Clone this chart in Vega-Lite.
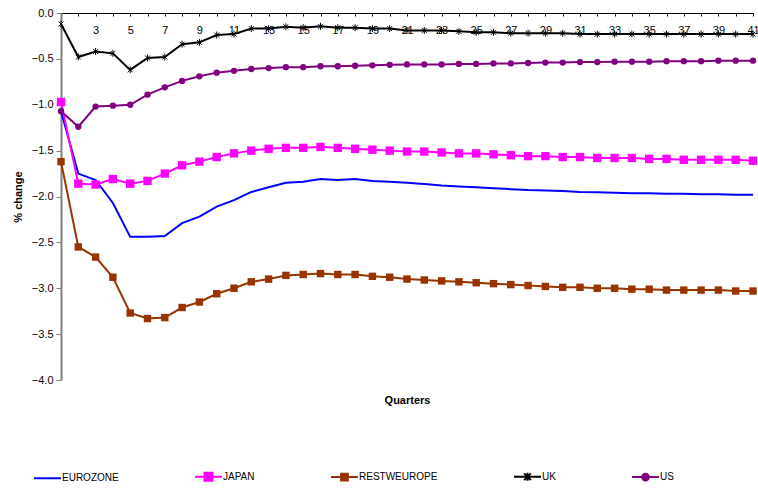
{
 "$schema": "https://vega.github.io/schema/vega-lite/v6.json",
 "width": 692, "height": 367,
 "autosize": {"type": "none"},
 "padding": {"left": 61, "top": 13, "right": 5, "bottom": 109},
 "background": "white",
 "config": {"view": {"stroke": null}, "font": "Liberation Sans", "axis": {"grid": false}},
 "data": {"values": [
  {"q":1,"EUROZONE":-1.07,"JAPAN":-0.97,"RESTWEUROPE":-1.62,"UK":-0.12,"US":-1.07},
  {"q":2,"EUROZONE":-1.75,"JAPAN":-1.86,"RESTWEUROPE":-2.55,"UK":-0.48,"US":-1.24},
  {"q":3,"EUROZONE":-1.82,"JAPAN":-1.87,"RESTWEUROPE":-2.66,"UK":-0.42,"US":-1.02},
  {"q":4,"EUROZONE":-2.07,"JAPAN":-1.81,"RESTWEUROPE":-2.88,"UK":-0.44,"US":-1.01},
  {"q":5,"EUROZONE":-2.44,"JAPAN":-1.86,"RESTWEUROPE":-3.27,"UK":-0.62,"US":-1.00},
  {"q":6,"EUROZONE":-2.44,"JAPAN":-1.83,"RESTWEUROPE":-3.33,"UK":-0.49,"US":-0.89},
  {"q":7,"EUROZONE":-2.43,"JAPAN":-1.75,"RESTWEUROPE":-3.32,"UK":-0.48,"US":-0.81},
  {"q":8,"EUROZONE":-2.29,"JAPAN":-1.66,"RESTWEUROPE":-3.21,"UK":-0.34,"US":-0.74},
  {"q":9,"EUROZONE":-2.22,"JAPAN":-1.62,"RESTWEUROPE":-3.15,"UK":-0.32,"US":-0.69},
  {"q":10,"EUROZONE":-2.11,"JAPAN":-1.57,"RESTWEUROPE":-3.06,"UK":-0.24,"US":-0.65},
  {"q":11,"EUROZONE":-2.04,"JAPAN":-1.53,"RESTWEUROPE":-3.00,"UK":-0.23,"US":-0.63},
  {"q":12,"EUROZONE":-1.95,"JAPAN":-1.50,"RESTWEUROPE":-2.93,"UK":-0.17,"US":-0.61},
  {"q":13,"EUROZONE":-1.90,"JAPAN":-1.48,"RESTWEUROPE":-2.90,"UK":-0.17,"US":-0.60},
  {"q":14,"EUROZONE":-1.85,"JAPAN":-1.47,"RESTWEUROPE":-2.86,"UK":-0.15,"US":-0.59},
  {"q":15,"EUROZONE":-1.84,"JAPAN":-1.47,"RESTWEUROPE":-2.85,"UK":-0.16,"US":-0.59},
  {"q":16,"EUROZONE":-1.81,"JAPAN":-1.46,"RESTWEUROPE":-2.84,"UK":-0.145,"US":-0.58},
  {"q":17,"EUROZONE":-1.82,"JAPAN":-1.47,"RESTWEUROPE":-2.85,"UK":-0.16,"US":-0.58},
  {"q":18,"EUROZONE":-1.81,"JAPAN":-1.48,"RESTWEUROPE":-2.85,"UK":-0.16,"US":-0.575},
  {"q":19,"EUROZONE":-1.83,"JAPAN":-1.49,"RESTWEUROPE":-2.87,"UK":-0.17,"US":-0.57},
  {"q":20,"EUROZONE":-1.84,"JAPAN":-1.50,"RESTWEUROPE":-2.88,"UK":-0.17,"US":-0.565},
  {"q":21,"EUROZONE":-1.85,"JAPAN":-1.51,"RESTWEUROPE":-2.90,"UK":-0.19,"US":-0.56},
  {"q":22,"EUROZONE":-1.865,"JAPAN":-1.51,"RESTWEUROPE":-2.91,"UK":-0.19,"US":-0.56},
  {"q":23,"EUROZONE":-1.88,"JAPAN":-1.52,"RESTWEUROPE":-2.92,"UK":-0.19,"US":-0.56},
  {"q":24,"EUROZONE":-1.89,"JAPAN":-1.53,"RESTWEUROPE":-2.93,"UK":-0.20,"US":-0.555},
  {"q":25,"EUROZONE":-1.90,"JAPAN":-1.53,"RESTWEUROPE":-2.94,"UK":-0.21,"US":-0.555},
  {"q":26,"EUROZONE":-1.91,"JAPAN":-1.54,"RESTWEUROPE":-2.95,"UK":-0.21,"US":-0.55},
  {"q":27,"EUROZONE":-1.92,"JAPAN":-1.55,"RESTWEUROPE":-2.96,"UK":-0.22,"US":-0.55},
  {"q":28,"EUROZONE":-1.93,"JAPAN":-1.56,"RESTWEUROPE":-2.97,"UK":-0.22,"US":-0.545},
  {"q":29,"EUROZONE":-1.935,"JAPAN":-1.56,"RESTWEUROPE":-2.98,"UK":-0.22,"US":-0.54},
  {"q":30,"EUROZONE":-1.94,"JAPAN":-1.57,"RESTWEUROPE":-2.99,"UK":-0.22,"US":-0.54},
  {"q":31,"EUROZONE":-1.95,"JAPAN":-1.57,"RESTWEUROPE":-2.99,"UK":-0.23,"US":-0.535},
  {"q":32,"EUROZONE":-1.955,"JAPAN":-1.58,"RESTWEUROPE":-3.00,"UK":-0.23,"US":-0.535},
  {"q":33,"EUROZONE":-1.96,"JAPAN":-1.58,"RESTWEUROPE":-3.00,"UK":-0.23,"US":-0.53},
  {"q":34,"EUROZONE":-1.965,"JAPAN":-1.58,"RESTWEUROPE":-3.01,"UK":-0.23,"US":-0.53},
  {"q":35,"EUROZONE":-1.965,"JAPAN":-1.59,"RESTWEUROPE":-3.01,"UK":-0.23,"US":-0.53},
  {"q":36,"EUROZONE":-1.97,"JAPAN":-1.59,"RESTWEUROPE":-3.02,"UK":-0.23,"US":-0.525},
  {"q":37,"EUROZONE":-1.97,"JAPAN":-1.60,"RESTWEUROPE":-3.02,"UK":-0.23,"US":-0.525},
  {"q":38,"EUROZONE":-1.975,"JAPAN":-1.60,"RESTWEUROPE":-3.02,"UK":-0.23,"US":-0.525},
  {"q":39,"EUROZONE":-1.975,"JAPAN":-1.60,"RESTWEUROPE":-3.02,"UK":-0.23,"US":-0.52},
  {"q":40,"EUROZONE":-1.98,"JAPAN":-1.60,"RESTWEUROPE":-3.03,"UK":-0.23,"US":-0.52},
  {"q":41,"EUROZONE":-1.98,"JAPAN":-1.61,"RESTWEUROPE":-3.03,"UK":-0.23,"US":-0.52}
 ]},
 "transform": [{"fold": ["EUROZONE","JAPAN","RESTWEUROPE","UK","US"], "as": ["series","value"]}],
 "resolve": {"axis": {"x": "independent"}},
 "encoding": {
  "y": {"field": "value", "type": "quantitative",
   "scale": {"domain": [-4,0], "nice": false},
   "axis": {"values": [-4,-3.5,-3,-2.5,-2,-1.5,-1,-0.5,0], "format": ".1f",
    "title": "% change", "titleFontWeight": "bold", "titleFontSize": 11, "titleColor": "#000",
    "domainColor": "#808080", "domainWidth": 2, "tickColor": "#808080", "tickSize": 5,
    "labelFontSize": 11, "labelColor": "#000", "labelPadding": 3, "titlePadding": 8}}
 },
 "layer": [
  {
   "mark": {"type": "line"},
   "encoding": {
    "x": {"field": "q", "type": "quantitative",
     "scale": {"domain": [1,41], "nice": false, "zero": false},
     "axis": {"orient": "top", "title": null,
      "values": [1,2,3,4,5,6,7,8,9,10,11,12,13,14,15,16,17,18,19,20,21,22,23,24,25,26,27,28,29,30,31,32,33,34,35,36,37,38,39,40,41],
      "labelExpr": "datum.value % 2 == 1 && datum.value > 1 ? datum.label : ''",
      "domainColor": "#000", "tickColor": "#000", "tickSize": -3,
      "labelPadding": -14, "labelBaseline": "middle", "labelFontSize": 11, "labelColor": "#000",
      "labelFlush": false, "labelOverlap": false}},
    "color": {"field": "series", "type": "nominal",
     "scale": {"domain": ["EUROZONE","JAPAN","RESTWEUROPE","UK","US"], "range": ["#0000FF","#FF00FF","#993300","#000000","#800080"]},
     "legend": {"orient": "none", "legendX": -28, "legendY": 449, "direction": "horizontal", "title": null,
      "columnPadding": 72, "labelFontSize": 10, "labelColor": "#000", "labelOffset": 0, "symbolSize": 729, "padding": 0,
      "encode": {"symbols": {"update": {
       "shape": {"signal": "datum.value === 'EUROZONE' ? 'M-1,0H1' : datum.value === 'JAPAN' ? 'M-1,0H1M-0.3,-0.3H0.3V0.3H-0.3Z' : datum.value === 'RESTWEUROPE' ? 'M-1,0H1M-0.25,-0.25H0.25V0.25H-0.25Z' : datum.value === 'UK' ? 'M-1,0H1M-0.25,-0.25L0.25,0.25M-0.25,0.25L0.25,-0.25M0,-0.3V0.3' : 'M-1,0H1M0.25,0A0.25,0.25 0 1,1 -0.25,0A0.25,0.25 0 1,1 0.25,0Z'"},
       "fill": {"scale": "color", "field": "value"},
       "stroke": {"scale": "color", "field": "value"},
       "strokeWidth": {"signal": "datum.value === 'EUROZONE' || datum.value === 'JAPAN' ? 2 : 1.5"},
       "opacity": {"value": 1}}}}}},
    "strokeWidth": {"field": "series", "type": "nominal",
     "scale": {"domain": ["EUROZONE","JAPAN","RESTWEUROPE","UK","US"], "range": [2,2,1.5,1,1.5]}, "legend": null}
   }
  },
  {
   "transform": [{"filter": "datum.series != 'EUROZONE' && datum.series != 'UK'"}],
   "mark": {"type": "point", "filled": true, "opacity": 1},
   "encoding": {
    "x": {"field": "q", "type": "quantitative",
     "axis": {"orient": "bottom", "title": "Quarters", "labels": false, "ticks": false, "domain": false,
      "titleFontSize": 11, "titleFontWeight": "bold", "titleColor": "#000", "titlePadding": 14}},
    "color": {"field": "series", "type": "nominal", "legend": null},
    "shape": {"field": "series", "type": "nominal", "scale": {"domain": ["JAPAN","RESTWEUROPE","US"], "range": ["square","square","circle"]}, "legend": null},
    "size": {"field": "series", "type": "nominal", "scale": {"domain": ["JAPAN","RESTWEUROPE","US"], "range": [70,40,38]}, "legend": null}
   }
  },
  {
   "transform": [{"filter": "datum.series == 'UK'"}],
   "mark": {"type": "point", "filled": false, "shape": "M-0.7,-0.7L0.7,0.7M-0.7,0.7L0.7,-0.7M0,-1V1", "size": 49, "color": "#000", "strokeWidth": 1, "opacity": 1},
   "encoding": {
    "x": {"field": "q", "type": "quantitative", "axis": null}
   }
  }
 ]
}
